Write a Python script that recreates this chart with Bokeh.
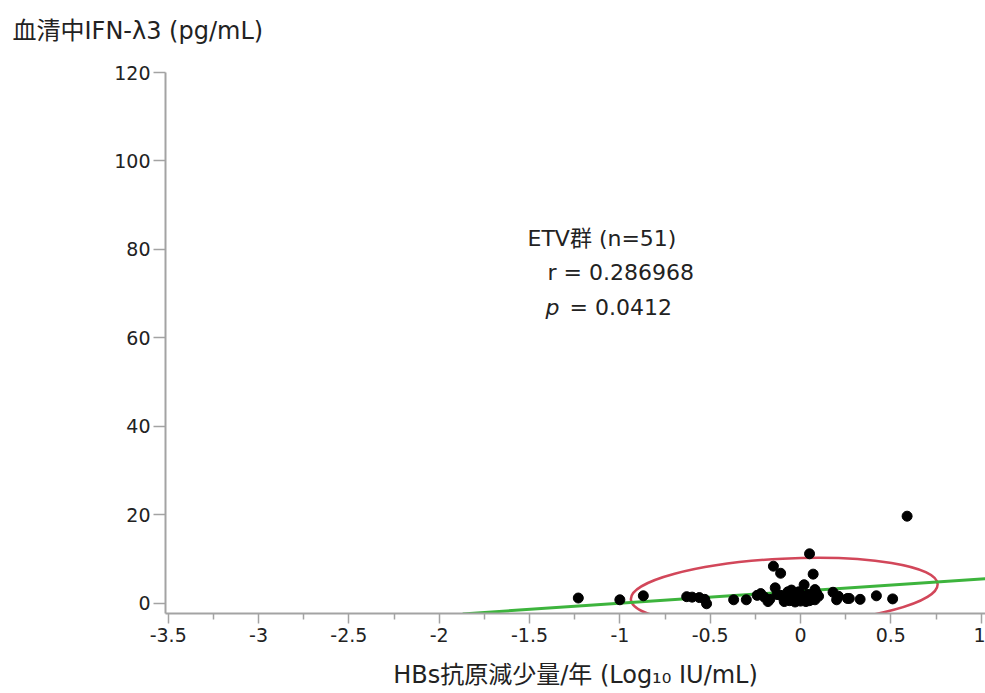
from bokeh.plotting import figure
from bokeh.models import Range1d, FixedTicker, Label
from bokeh.embed import file_html
from bokeh.resources import INLINE

# ---- data ----
x_vals = [-1.23, -1.00, -0.87, -0.63, -0.60, -0.56, -0.53, -0.52, -0.37, -0.30,
          -0.22, -0.20, -0.18, -0.17, -0.15, -0.11, -0.14, -0.11, -0.07, -0.06,
          -0.04, -0.03, -0.01, 0.00, 0.01, 0.02, 0.03, 0.04, 0.05, 0.05,
          0.06, 0.07, 0.08, 0.08, 0.09, 0.18, 0.20, 0.21, 0.26, 0.27,
          0.33, 0.42, 0.51, 0.59, -0.09, -0.02, 0.02, -0.13, -0.24, 0.10, -0.05]
y_vals = [1.2, 0.8, 1.7, 1.5, 1.4, 1.3, 0.9, -0.1, 0.8, 0.8,
          2.2, 1.4, 0.4, 0.9, 8.4, 6.8, 3.5, 1.8, 2.6, 0.6,
          1.5, 0.3, 2.6, 0.5, 1.6, 4.2, 0.4, 2.0, 11.2, 0.6,
          1.2, 6.6, 3.1, 0.8, 2.2, 2.5, 0.8, 1.6, 1.1, 1.1,
          0.9, 1.7, 1.0, 19.7, 0.4, 1.0, 0.9, 2.0, 1.8, 1.6, 3.0]

x_ticks = [-3.5, -3.0, -2.5, -2.0, -1.5, -1.0, -0.5, 0.0, 0.5, 1.0]
x_tick_labels = ["-3.5", "-3", "-2.5", "-2", "-1.5", "-1", "-0.5", "0", "0.5", "1"]
x_minor_ticks = [-3.25, -2.75, -2.25, -1.75, -1.25, -0.75, -0.25, 0.25, 0.75]
y_ticks = [0, 20, 40, 60, 80, 100, 120]

fit_slope = 2.75
fit_intercept = 2.75
fit_x = [-1.87, 1.05]

ellipse_center = (-0.09, 2.6)
ellipse_size = (1.70, 15.0)   # width, height in data units
ellipse_angle = 0.05          # radians

y_title = "血清中IFN-λ3 (pg/mL)"
x_title = "HBs抗原減少量/年 (Log₁₀ IU/mL)"
stat_lines = ["ETV群 (n=51)", "r = 0.286968", "p", "= 0.0412"]

FONT = "'DejaVu Sans', 'Noto Sans CJK JP'"
AX = "#a3a3a3"
TXT = "#222222"

FL, FT, FB = 165, 72, 613   # frame left / top / bottom in page pixels

p = figure(width=985, height=693, output_backend="svg", toolbar_location=None,
           x_range=Range1d(-3.515, 1.024), y_range=Range1d(-2.3, 120),
           min_border_left=FL, min_border_right=0, min_border_top=FT,
           min_border_bottom=693 - FB)
p.outline_line_color = None
p.xgrid.visible = False
p.ygrid.visible = False
p.background_fill_color = "white"
p.border_fill_color = "white"

# title used as the y-axis caption (top-left); an empty second line lifts it
p.title.text = y_title + "\n "
p.title.align = "left"
p.title.vertical_align = "bottom"
p.title.offset = 12 - FL
p.title.text_font = FONT
p.title.text_font_size = "24px"
p.title.text_line_height = 1.0
p.title.text_font_style = "normal"
p.title.text_color = TXT
p.title.standoff = 0

# axes
p.xaxis.ticker = FixedTicker(ticks=x_ticks, minor_ticks=x_minor_ticks)
p.xaxis.major_label_overrides = {t: l for t, l in zip(x_ticks, x_tick_labels)}
p.yaxis.ticker = FixedTicker(ticks=y_ticks)
for ax in (p.xaxis[0], p.yaxis[0]):
    ax.axis_line_color = AX
    ax.axis_line_width = 2
    ax.major_tick_line_color = AX
    ax.major_tick_line_width = 1.5
    ax.minor_tick_line_color = AX
    ax.minor_tick_line_width = 1.5
    ax.major_tick_in = 0
    ax.minor_tick_in = 0
    ax.major_label_text_font = FONT
    ax.major_label_text_font_size = "19px"
    ax.major_label_text_color = TXT
p.xaxis.major_tick_out = 10
p.xaxis.minor_tick_out = 6
p.xaxis.major_label_standoff = 4
p.yaxis.major_tick_out = 12
p.yaxis.minor_tick_out = 0
p.yaxis.minor_tick_line_color = None
p.yaxis.major_label_standoff = 3

p.xaxis.axis_label = x_title
p.xaxis.axis_label_text_font = FONT
p.xaxis.axis_label_text_font_size = "24px"
p.xaxis.axis_label_text_font_style = "normal"
p.xaxis.axis_label_text_color = TXT
p.xaxis.axis_label_standoff = 16

# density ellipse
p.ellipse(x=[ellipse_center[0]], y=[ellipse_center[1]], width=[ellipse_size[0]],
          height=[ellipse_size[1]], angle=ellipse_angle, fill_alpha=0,
          line_color="#d2475a", line_width=2.5)

# regression line
p.line(x=fit_x, y=[fit_slope * xx + fit_intercept for xx in fit_x],
       line_color="#3db43d", line_width=3)

# points
p.scatter(x=x_vals, y=y_vals, size=10, color="black")

def add_label(text, px, py, size="22px", style="normal"):
    p.add_layout(Label(x=px - FL, y=FB - py, x_units="screen", y_units="screen",
                       text=text, text_font=FONT, text_font_size=size,
                       text_color=TXT, text_align="left", text_baseline="middle",
                       text_font_style=style))

add_label(stat_lines[0], 527, 238)
add_label(stat_lines[1], 547, 272)
add_label(stat_lines[2], 545, 307, style="italic")
add_label(stat_lines[3], 569, 307)

open("out.html", "w").write(file_html(p, INLINE))
